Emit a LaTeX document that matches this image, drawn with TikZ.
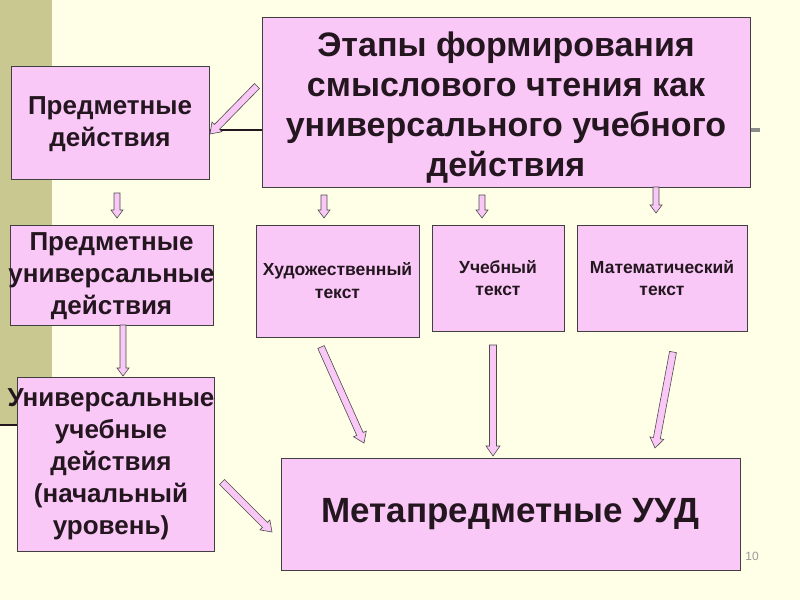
\documentclass[tikz,border=0pt]{standalone}
\usepackage{fontspec}
\setmainfont{Liberation Sans}
\usetikzlibrary{calc}
\definecolor{bg}{HTML}{FFFFE8}
\definecolor{strip}{HTML}{C8C890}
\definecolor{boxf}{HTML}{F9C8F7}
\definecolor{txt}{HTML}{24161F}
\tikzset{
 box/.style={draw=black!75,line width=0.8pt,fill=boxf,inner sep=0pt},
 lbl/.style={text=txt,align=center,inner sep=0pt},
}
\newcommand\blockarr[2]{%
 \filldraw[fill=boxf,draw=black!70,line width=0.6pt]
 ($(#1)!3.5pt!90:(#2)$) -- ($($(#2)!10pt!(#1)$)!3.5pt!90:(#2)$) -- ($($(#2)!10pt!(#1)$)!7pt!90:(#2)$) -- (#2)
 -- ($($(#2)!10pt!(#1)$)!7pt!-90:(#2)$) -- ($($(#2)!10pt!(#1)$)!3.5pt!-90:(#2)$) -- ($(#1)!3.5pt!-90:(#2)$) -- cycle;}
\newcommand\smallarr[2]{%
 \filldraw[fill=boxf,draw=black!70,line width=0.6pt]
 ($(#1)!3pt!90:(#2)$) -- ($($(#2)!8pt!(#1)$)!3pt!90:(#2)$) -- ($($(#2)!8pt!(#1)$)!6pt!90:(#2)$) -- (#2)
 -- ($($(#2)!8pt!(#1)$)!6pt!-90:(#2)$) -- ($($(#2)!8pt!(#1)$)!3pt!-90:(#2)$) -- ($(#1)!3pt!-90:(#2)$) -- cycle;}
\begin{document}
\begin{tikzpicture}[x=1pt,y=-1pt]
\fill[bg] (0,0) rectangle (800,600);
\useasboundingbox (0,0) rectangle (800,600);
\fill[strip] (0,0) rectangle (52,425);
\draw[txt,line width=2.5pt] (0,425) -- (50,425);
\draw[black!45,line width=4pt] (748,130) -- (760,130);
\draw[txt,line width=1.2pt] (209,130) -- (262,130);
\node[box,minimum width=488,minimum height=170] (title) at (506,102) {};
\node[lbl,font=\bfseries\fontsize{34}{40}\selectfont] (titlet) at (506,108) {Этапы формирования\\смыслового чтения как\\универсального учебного\\действия};
\node[box,minimum width=198,minimum height=113] (pd) at (110,123) {};
\node[lbl,font=\bfseries\fontsize{26}{32}\selectfont] (pdt) at (110,124) {Предметные\\действия};
\node[box,minimum width=203,minimum height=100] (pud) at (111.5,275) {};
\node[lbl,font=\bfseries\fontsize{26}{32}\selectfont] (pudt) at (111.5,276) {Предметные\\универсальные\\действия};
\node[box,minimum width=197,minimum height=174] (uud) at (115.5,464) {};
\node[lbl,font=\bfseries\fontsize{26}{32}\selectfont] (uudt) at (111,464) {Универсальные\\учебные\\действия\\(начальный\\уровень)};
\node[box,minimum width=163,minimum height=112] (hud) at (337.5,281) {};
\node[lbl,font=\bfseries\fontsize{17.5}{23}\selectfont] (hudt) at (337.5,281) {Художественный\\текст};
\node[box,minimum width=132,minimum height=106] (uch) at (498,278) {};
\node[lbl,font=\bfseries\fontsize{17.5}{22}\selectfont] (ucht) at (498,278) {Учебный\\текст};
\node[box,minimum width=170,minimum height=106] (mat) at (662,278) {};
\node[lbl,font=\bfseries\fontsize{17.5}{22}\selectfont] (matt) at (662,278) {Математический\\текст};
\node[box,minimum width=459,minimum height=112] (meta) at (510.5,514) {};
\node[lbl,font=\bfseries\fontsize{35}{40}\selectfont] (metat) at (510.5,514) {Метапредметные УУД};
\node[text=black!40,font=\fontsize{12}{12}\selectfont] (pg) at (752,556) {10};
\coordinate (a1s) at (117,193); \coordinate (a1e) at (117,218);
\coordinate (a2s) at (324,195); \coordinate (a2e) at (324,218);
\coordinate (a3s) at (482,195); \coordinate (a3e) at (482,218);
\coordinate (a4s) at (656,187); \coordinate (a4e) at (656,213);
\smallarr{a1s}{a1e}\smallarr{a2s}{a2e}\smallarr{a3s}{a3e}\smallarr{a4s}{a4e}
\coordinate (b0s) at (123,325); \coordinate (b0e) at (123,376);
\smallarr{b0s}{b0e}
\coordinate (b1s) at (257,86); \coordinate (b1e) at (210,134);
\coordinate (b2s) at (321,347); \coordinate (b2e) at (364,443);
\coordinate (b3s) at (493,345); \coordinate (b3e) at (493,456);
\coordinate (b4s) at (673,352); \coordinate (b4e) at (655,448);
\coordinate (b5s) at (222,482); \coordinate (b5e) at (272,532);
\blockarr{b1s}{b1e}\blockarr{b2s}{b2e}\blockarr{b3s}{b3e}\blockarr{b4s}{b4e}\blockarr{b5s}{b5e}
\end{tikzpicture}
\end{document}
